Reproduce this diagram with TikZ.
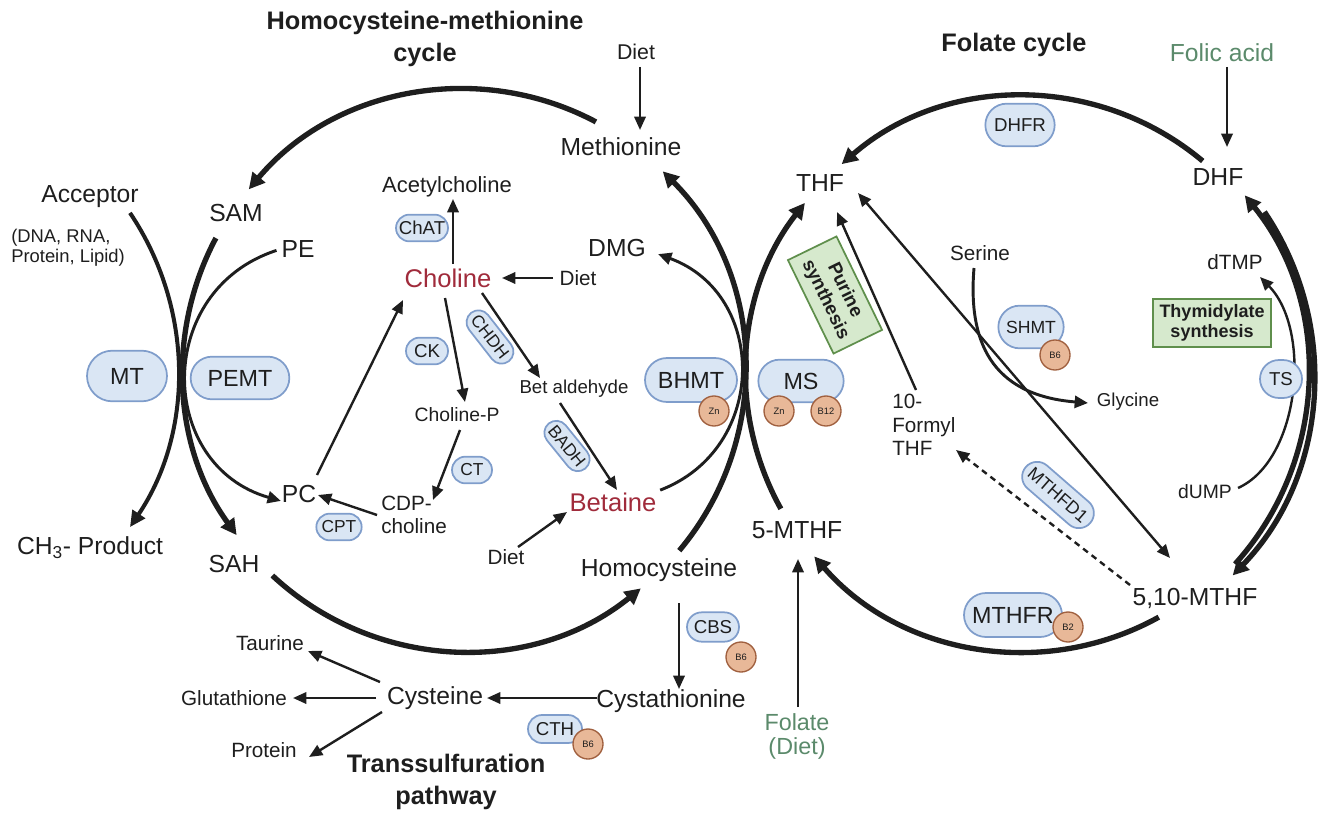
\documentclass[tikz,border=0pt]{standalone}
\usepackage{fontspec}
\setmainfont{Liberation Sans}
\usetikzlibrary{arrows.meta,shapes.misc,calc}
\definecolor{pillfill}{HTML}{DAE6F4}
\definecolor{pillline}{HTML}{7F9DCB}
\definecolor{cofill}{HTML}{E8B898}
\definecolor{coline}{HTML}{A0603F}
\definecolor{grfill}{HTML}{D6E9CD}
\definecolor{grline}{HTML}{5F8F4C}
\definecolor{redt}{HTML}{A02B3B}
\definecolor{grt}{HTML}{5B8A6B}
\definecolor{ink}{HTML}{1E1E1E}
% circular arc as one Bezier: centre, radius, start angle, end angle
\newcommand\carc[4]{.. controls ($(#1)+({#3}:{#2})+({(#3)+90*sign((#4)-(#3))}:{4/3*tan(abs((#4)-(#3))/4)*(#2)})$) and ($(#1)+({#4}:{#2})+({(#4)-90*sign((#4)-(#3))}:{4/3*tan(abs((#4)-(#3))/4)*(#2)})$) ..}
\tikzset{
 lbl/.style={font=\fontsize{18.5}{22}\selectfont, text=ink, inner sep=1pt},
 mid/.style={font=\fontsize{15.5}{17.5}\selectfont, text=ink, inner sep=1pt},
 pill/.style={rounded rectangle, draw=pillline, fill=pillfill, line width=1.3pt, text=ink, inner sep=0pt},
 bpill/.style={pill, font=\fontsize{17.5}{20}\selectfont},
 spill/.style={pill, font=\fontsize{14}{16}\selectfont},
 cof/.style={circle, draw=coline, fill=cofill, line width=1pt, minimum size=22.5pt, inner sep=0pt, font=\fontsize{7}{8}\selectfont, text=ink},
 grbox/.style={rectangle, draw=grline, fill=grfill, line width=1.3pt, font=\bfseries\fontsize{13.5}{15.5}\selectfont, align=center, inner sep=0pt, text=ink},
 ttl/.style={font=\bfseries\fontsize{19}{24}\selectfont, align=center, text=ink},
 thk/.style={draw=ink, line width=4pt, -{Triangle[length=12pt,width=12pt]}},
 mdm/.style={draw=ink, line width=3pt, -{Triangle[length=12pt,width=11pt]}},
 thn/.style={draw=ink, line width=1.8pt, -{Triangle[length=10pt,width=8.5pt]}},
 thnn/.style={draw=ink, line width=2.2pt, -{Triangle[length=10pt,width=9pt]}},
}
\begin{document}
\begin{tikzpicture}[x=0.75pt,y=-0.75pt]
\useasboundingbox (0,0) rectangle (1327,820);

% ---------- titles ----------
\node[ttl] (ttlA) at (425,39) {Homocysteine-methionine\\cycle};
\node[ttl] (ttlB) at (1014,45) {Folate cycle};
\node[ttl] (ttlC) at (446,782) {Transsulfuration\\pathway};

% ---------- text labels ----------
\node[lbl] (acc) at (90,197) {Acceptor};
\node[font=\fontsize{13.8}{15}\selectfont, text=ink, align=left, anchor=west, inner sep=0pt] (accx) at (11,248) {(DNA, RNA,\\Protein, Lipid)};
\node[lbl] (ch3) at (90,548) {CH\textsubscript{3}- Product};
\node[lbl] (sam) at (236,213) {SAM};
\node[lbl] (sah) at (234,564) {SAH};
\node[lbl] (pe) at (298,249) {PE};
\node[lbl] (pc) at (299,494) {PC};
\node[lbl] (met) at (621,147) {Methionine};
\node[mid, font=\fontsize{16}{18}\selectfont] (dietA) at (636,52) {Diet};
\node[lbl] (hcy) at (659,570) {Homocysteine};
\node[lbl] (dmg) at (617,248) {DMG};
\node[mid, font=\fontsize{16.5}{18}\selectfont] (ach) at (447,187) {Acetylcholine};
\node[lbl, text=redt, font=\fontsize{19.2}{22}\selectfont] (chol) at (448,278) {Choline};
\node[mid] (dietB) at (578,278) {Diet};
\node[mid, font=\fontsize{14.5}{17}\selectfont] (cholp) at (457,415) {Choline-P};
\node[mid, font=\fontsize{14}{17}\selectfont] (betald) at (574,389) {Bet aldehyde};
\node[mid, align=left, anchor=west, inner sep=0pt] (cdp) at (381,515) {CDP-\\choline};
\node[lbl, text=redt, font=\fontsize{19.2}{22}\selectfont] (bet) at (613,502) {Betaine};
\node[mid] (dietC) at (506,557) {Diet};
\node[lbl] (cysta) at (671,701) {Cystathionine};
\node[lbl] (cys) at (435,698) {Cysteine};
\node[mid] (taur) at (270,643) {Taurine};
\node[mid] (glut) at (234,698) {Glutathione};
\node[mid] (prot) at (264,750) {Protein};
\node[lbl] (thf) at (820,183) {THF};
\node[lbl] (dhf) at (1218,177) {DHF};
\node[lbl, text=grt] (folic) at (1222,53) {Folic acid};
\node[lbl] (mthf) at (797,530) {5-MTHF};
\node[lbl] (mthf510) at (1195,598) {5,10-MTHF};
\node[lbl, text=grt, align=center, font=\fontsize{17.5}{18}\selectfont] (folate) at (797,736) {Folate\\(Diet)};
\node[mid, align=left, anchor=west, inner sep=0pt] (fthf) at (892,425) {10-\\Formyl\\THF};
\node[mid] (ser) at (980,253) {Serine};
\node[mid, font=\fontsize{14}{17}\selectfont] (gly) at (1128,402) {Glycine};
\node[mid] (dtmp) at (1235,262) {dTMP};
\node[mid, font=\fontsize{14.5}{17}\selectfont] (dump) at (1205,492) {dUMP};

% ---------- circle centres ----------
\coordinate (C1) at (464,370);
\coordinate (C2) at (1024,374);
\coordinate (C3) at (-103,370);
\coordinate (C4) at (317,375);
\coordinate (C5) at (615,372.5);

% ---------- arc end points ----------
\coordinate (a1s) at ($(C1)+(-62:281)$);  \coordinate (a1e) at ($(C1)+(-140:281)$);
\coordinate (a2s) at ($(C1)+(208:281)$);  \coordinate (a2e) at ($(C1)+(144:281)$);
\coordinate (a3s) at ($(C1)+(40:281)$);   \coordinate (a3e) at ($(C1)+(-45:281)$);
\coordinate (a4s) at ($(C1)+(133:281)$);  \coordinate (a4e) at ($(C1)+(51:281)$);
\coordinate (a5s) at ($(C2)+(151:278)$);  \coordinate (a5e) at ($(C2)+(218:278)$);
\coordinate (a6s) at ($(C2)+(-50:278)$);  \coordinate (a6e) at ($(C2)+(-131:278)$);
\coordinate (a7s) at ($(C2)+(61:278)$);   \coordinate (a7e) at ($(C2)+(139:278)$);
\coordinate (a8s) at ($(C2)+(42:284)$);   \coordinate (a8e) at ($(C2)+(-39:284)$);
\coordinate (a9s) at ($(C2)+(-34:290)$);  \coordinate (a9e) at ($(C2)+(44:290)$);
\coordinate (acs) at ($(C3)+(-34:281)$);  \coordinate (ace) at ($(C3)+(34:281)$);
\coordinate (pes) at ($(C4)+(252:131)$);  \coordinate (pee) at ($(C4)+(106:131)$);
\coordinate (bds) at ($(C5)+(69:126)$);   \coordinate (bde) at ($(C5)+(-70:126)$);

% ---------- big arcs ----------
\draw[thk] (a1s) \carc{C1}{281}{-62}{-140} (a1e);
\draw[thk] (a2s) \carc{C1}{281}{208}{144} (a2e);
\draw[thk] (a3s) \carc{C1}{281}{40}{-45} (a3e);
\draw[thk] (a4s) \carc{C1}{281}{133}{51} (a4e);
\draw[thk] (a5s) \carc{C2}{278}{151}{218} (a5e);
\draw[thk] (a6s) \carc{C2}{278}{-50}{-131} (a6e);
\draw[thk] (a7s) \carc{C2}{278}{61}{139} (a7e);
\draw[thk] (a8s) \carc{C2}{284}{42}{-39} (a8e);
\draw[thk] (a9s) \carc{C2}{290}{-34}{44} (a9e);
\draw[mdm] (acs) \carc{C3}{281}{-34}{34} (ace);
\draw[thnn] (pes) \carc{C4}{131}{252}{106} (pee);
\draw[thnn] (bds) \carc{C5}{126}{69}{-70} (bde);

% ---------- straight connectors ----------
\coordinate (dAa) at (640,67);   \coordinate (dAb) at (640,130);
\draw[thn] (dAa) -- (dAb);
\coordinate (chA) at (453,264);  \coordinate (chB) at (453,199);
\draw[thn] (chA) -- (chB);
\coordinate (dBa) at (553,278);  \coordinate (dBb) at (502,278);
\draw[thn] (dBa) -- (dBb);
\coordinate (cpA) at (445,298);  \coordinate (cpB) at (465,402);
\draw[thn] (cpA) -- (cpB);
\coordinate (baA) at (482,293);  \coordinate (baB) at (540,378);
\draw[thn] (baA) -- (baB);
\coordinate (btA) at (560,403);  \coordinate (btB) at (617,490);
\draw[thn] (btA) -- (btB);
\coordinate (cdA) at (460,430);  \coordinate (cdB) at (433,500);
\draw[thn] (cdA) -- (cdB);
\coordinate (pcA) at (377,515);  \coordinate (pcB) at (318,495);
\draw[thn] (pcA) -- (pcB);
\coordinate (pkA) at (317,475);  \coordinate (pkB) at (403,300);
\draw[thn] (pkA) -- (pkB);
\coordinate (dCa) at (518,547);  \coordinate (dCb) at (567,512);
\draw[thn] (dCa) -- (dCb);
\coordinate (hcA) at (679,603);  \coordinate (hcB) at (679,689);
\draw[thn] (hcA) -- (hcB);
\coordinate (csA) at (597,698);  \coordinate (csB) at (487,698);
\draw[thn] (csA) -- (csB);
\coordinate (tuA) at (380,682);  \coordinate (tuB) at (308,651);
\draw[thn] (tuA) -- (tuB);
\coordinate (glA) at (376,698);  \coordinate (glB) at (293,698);
\draw[thn] (glA) -- (glB);
\coordinate (prA) at (382,712);  \coordinate (prB) at (309,757);
\draw[thn] (prA) -- (prB);
\coordinate (foA) at (798,707);  \coordinate (foB) at (798,559);
\draw[thn] (foA) -- (foB);
\coordinate (fcA) at (1227,67);  \coordinate (fcB) at (1227,147);
\draw[thn] (fcA) -- (fcB);
\coordinate (ftA) at (916,390);  \coordinate (ftB) at (837,212);
\draw[thn] (ftA) -- (ftB);
\coordinate (tmA) at (858,193);  \coordinate (tmB) at (1170,558);
\draw[thn, {Triangle[length=10pt,width=8.5pt]}-{Triangle[length=10pt,width=8.5pt]}] (tmA) -- (tmB);
\coordinate (dsA) at (1130,585); \coordinate (dsB) at (956,450);
\draw[thn, dash pattern=on 4.5pt off 3.5pt] (dsA) -- (dsB);
\coordinate (sgA) at (974,268);  \coordinate (sgB) at (1088,403);
\draw[thnn] (sgA) .. controls (968,340) and (990,395) .. (sgB);
\coordinate (duA) at (1238,488); \coordinate (duB) at (1260,277);
\draw[thn] (duA) .. controls (1300,460) and (1312,330) .. (duB);

% ---------- enzyme pills ----------
\node[bpill, minimum width=60pt, minimum height=38pt] (mt) at (127,376) {MT};
\node[bpill, minimum width=74pt, minimum height=32pt] (pemt) at (240,378) {PEMT};
\node[bpill, minimum width=69pt, minimum height=33pt] (bhmt) at (691,380) {BHMT};
\node[bpill, minimum width=64pt, minimum height=32pt] (ms) at (801,381) {MS};
\node[bpill, minimum width=73.5pt, minimum height=33pt] (mthfr) at (1013,615) {MTHFR};
\node[spill, minimum width=39pt, minimum height=20pt] (chat) at (422,228) {ChAT};
\node[spill, minimum width=31.5pt, minimum height=20pt] (ck) at (427,351) {CK};
\node[spill, minimum width=46pt, minimum height=18pt, rotate=-52, font=\fontsize{13}{15}\selectfont] (chdh) at (490,337) {CHDH};
\node[spill, minimum width=43.5pt, minimum height=18pt, rotate=-51, font=\fontsize{13}{15}\selectfont] (badh) at (567,446) {BADH};
\node[spill, minimum width=30pt, minimum height=20pt, font=\fontsize{13}{15}\selectfont] (ct) at (472,470) {CT};
\node[spill, minimum width=34pt, minimum height=20pt, font=\fontsize{13}{15}\selectfont] (cpt) at (339,527) {CPT};
\node[spill, minimum width=52pt, minimum height=32pt] (dhfr) at (1020,125) {DHFR};
\node[spill, minimum width=49pt, minimum height=32pt, font=\fontsize{13.2}{15}\selectfont] (shmt) at (1031,327) {SHMT};
\node[spill, minimum width=31.5pt, minimum height=28.5pt] (ts) at (1281,379) {TS};
\node[spill, minimum width=39pt, minimum height=22pt] (cbs) at (713,627) {CBS};
\node[spill, minimum width=40.5pt, minimum height=21pt] (cth) at (555,729) {CTH};
\node[spill, minimum width=64pt, minimum height=22.5pt, rotate=-41, font=\fontsize{13.5}{15}\selectfont] (mthfd) at (1058,495) {MTHFD1};

% ---------- cofactors ----------
\node[cof] (znA) at (714,411) {Zn};
\node[cof] (znB) at (779,411) {Zn};
\node[cof] (b12) at (826,411) {B12};
\node[cof] (b2) at (1068,627) {B2};
\node[cof] (b6a) at (1055,355) {B6};
\node[cof] (b6b) at (741,657) {B6};
\node[cof] (b6c) at (588,744) {B6};

% ---------- green boxes ----------
\node[grbox, minimum width=78pt, minimum height=40.5pt, rotate=-64, font=\bfseries\fontsize{14}{16}\selectfont] (pur) at (835,295) {Purine\\synthesis};
\node[grbox, minimum width=88.5pt, minimum height=36pt] (thy) at (1212,323) {Thymidylate\\synthesis};
\end{tikzpicture}
\end{document}
